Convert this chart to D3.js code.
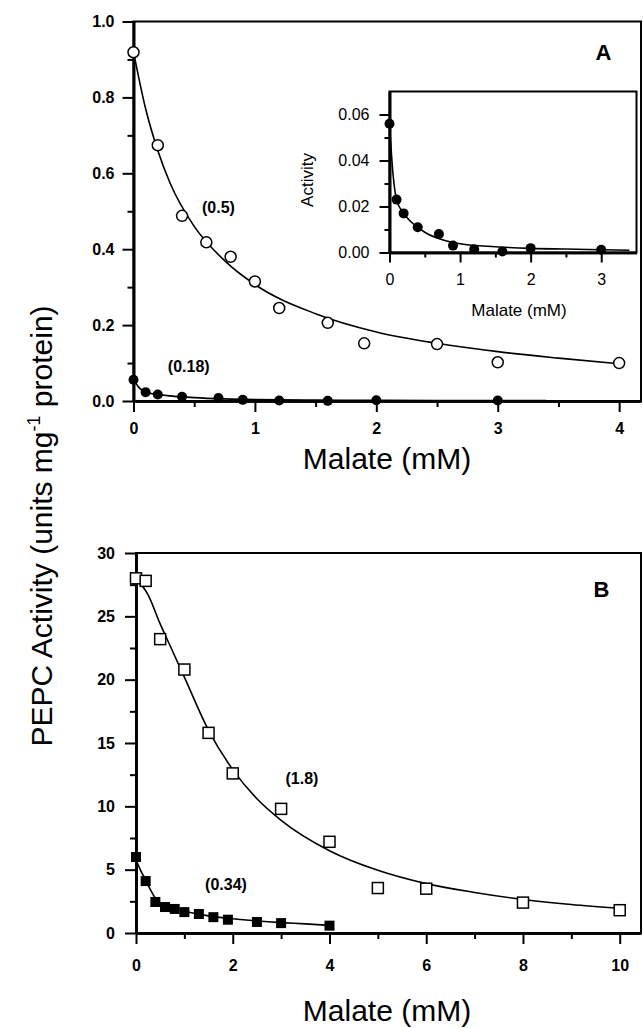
<!DOCTYPE html>
<html>
<head>
<meta charset="utf-8">
<script src="https://cdn.jsdelivr.net/npm/d3@7"></script>
<style>
body { margin: 0; background: #fff; }
svg { display: block; font-family: "Liberation Sans", Arial, sans-serif; }
</style>
</head>
<body>
<script>
// ---- panel A, open circles ----
const aOpenX = [0, 0.2, 0.4, 0.6, 0.8, 1.0, 1.2, 1.6, 1.9, 2.5, 3.0, 4.0];
const aOpenY = [0.919, 0.674, 0.488, 0.418, 0.380, 0.315, 0.245, 0.206, 0.152, 0.150, 0.102, 0.100];
// fitted line through the open circles
const aOpenFitX = [0, 0.1, 0.2, 0.3, 0.5, 0.75, 1, 1.5, 2, 2.5, 3, 3.5, 4];
const aOpenFitY = [0.92, 0.77, 0.66, 0.575, 0.46, 0.37, 0.307, 0.23, 0.182, 0.152, 0.13, 0.113, 0.098];

// ---- panel A, filled circles (same data in the inset) ----
const aFillX = [0, 0.1, 0.2, 0.4, 0.7, 0.9, 1.2, 1.6, 2.0, 3.0];
const aFillY = [0.056, 0.023, 0.017, 0.011, 0.008, 0.003, 0.0014, 0.0004, 0.0019, 0.0012];
const aFillFitX = [0, 0.05, 0.1, 0.2, 0.3, 0.5, 0.75, 1, 1.5, 2, 2.5, 3, 3.4];
const aFillFitY = [0.056, 0.034, 0.023, 0.017, 0.0135, 0.0088, 0.0055, 0.0038, 0.0025, 0.0018, 0.0015, 0.0012, 0.001];

// ---- panel B, open squares ----
const bOpenX = [0, 0.2, 0.5, 1, 1.5, 2, 3, 4, 5, 6, 8, 10];
const bOpenY = [28.0, 27.8, 23.2, 20.8, 15.8, 12.6, 9.8, 7.2, 3.55, 3.5, 2.4, 1.8];
const bOpenFitX = [0, 0.25, 0.5, 0.75, 1, 1.5, 2, 2.5, 3, 4, 5, 6, 7, 8, 9, 10];
const bOpenFitY = [28.0, 26.7, 24.4, 22.3, 20.2, 16.0, 12.9, 10.6, 8.9, 6.5, 4.95, 3.9, 3.2, 2.65, 2.25, 1.95];

// ---- panel B, filled squares ----
const bFillX = [0, 0.2, 0.4, 0.6, 0.8, 1.0, 1.3, 1.6, 1.9, 2.5, 3.0, 4.0];
const bFillY = [6.0, 4.1, 2.45, 2.05, 1.9, 1.65, 1.5, 1.25, 1.05, 0.87, 0.78, 0.58];
const bFillFitX = [0, 0.1, 0.2, 0.3, 0.4, 0.6, 0.8, 1, 1.5, 2, 2.5, 3, 3.5, 4];
const bFillFitY = [5.8, 4.9, 4.2, 3.4, 2.75, 2.15, 1.9, 1.72, 1.35, 1.12, 0.95, 0.82, 0.72, 0.6];

// ---- tick values and annotations ----
const aYTicks = [0, 0.2, 0.4, 0.6, 0.8, 1.0];
const aYMinor = [0.1, 0.3, 0.5, 0.7, 0.9];
const aXTicks = [0, 1, 2, 3, 4];
const aXMinor = [0.5, 1.5, 2.5, 3.5];
const inYTicks = [0, 0.02, 0.04, 0.06];
const inYMinor = [0.01, 0.03, 0.05];
const inXTicks = [0, 1, 2, 3];
const inXMinor = [0.5, 1.5, 2.5];
const bYTicks = [0, 5, 10, 15, 20, 25, 30];
const bYMinor = [2.5, 7.5, 12.5, 17.5, 22.5, 27.5];
const bXTicks = [0, 2, 4, 6, 8, 10];
const bXMinor = [1, 3, 5, 7, 9];
const aLabels = [{ t: "(0.5)", x: 0.70, y: 0.509 }, { t: "(0.18)", x: 0.455, y: 0.09 }];
const bLabels = [{ t: "(1.8)", x: 3.43, y: 12.2 }, { t: "(0.34)", x: 1.86, y: 3.8 }];

const W = 643, H = 1028;
const svg = d3.select("body").append("svg").attr("width", W).attr("height", H);

const zip = (xs, ys) => xs.map((x, i) => ({ x, y: ys[i] }));

// scales
const xA = d3.scaleLinear().domain([0, 4.18]).range([133.5, 641]);
const yA = d3.scaleLinear().domain([0, 1]).range([401, 21.5]);
const xI = d3.scaleLinear().domain([0, 3.5]).range([389.5, 636.5]);
const yI = d3.scaleLinear().domain([0, 0.07]).range([252.5, 91.5]);
const xB = d3.scaleLinear().domain([0, 10.44]).range([136, 641]);
const yB = d3.scaleLinear().domain([0, 30]).range([933, 553]);

// draws a framed panel with major/minor ticks
function frame(g, x, y, o) {
  const [x0, x1] = x.range(), [y0, y1] = y.range();
  g.append("rect").attr("x", x0).attr("y", y1).attr("width", x1 - x0).attr("height", y0 - y1)
    .attr("fill", "#fff").attr("stroke", "#000").attr("stroke-width", 2);

  g.append("g").attr("transform", `translate(${x0},0)`)
    .call(d3.axisLeft(y).tickValues(o.yT).tickSize(o.major).tickSizeOuter(0)
      .tickPadding(o.padY).tickFormat(o.fmtY));
  g.append("g").attr("transform", `translate(${x0},0)`)
    .call(d3.axisLeft(y).tickValues(o.yM).tickSize(o.minor).tickSizeOuter(0).tickFormat(""));
  g.append("g").attr("transform", `translate(0,${y0})`)
    .call(d3.axisBottom(x).tickValues(o.xT).tickSize(o.major).tickSizeOuter(0)
      .tickPadding(o.padX).tickFormat(d3.format("d")));
  g.append("g").attr("transform", `translate(0,${y0})`)
    .call(d3.axisBottom(x).tickValues(o.xM).tickSize(o.minor).tickSizeOuter(0).tickFormat(""));

  g.selectAll(".domain").attr("stroke-width", 2.6);
  g.selectAll(".tick line").attr("stroke-width", 2);
  g.selectAll(".tick text").attr("font-family", '"Liberation Sans", Arial, sans-serif')
    .attr("font-size", o.fs).attr("font-weight", o.bold ? "bold" : "normal").attr("fill", "#000");
}

const line = (x, y) => d3.line().x(d => x(d.x)).y(d => y(d.y)).curve(d3.curveMonotoneX);

// ---------- panel A ----------
const gA = svg.append("g");
frame(gA, xA, yA, { yT: aYTicks, yM: aYMinor, xT: aXTicks, xM: aXMinor,
  major: 11, minor: 6, padY: 8, padX: 11, fs: 16, bold: true, fmtY: d3.format(".1f") });

gA.append("path").datum(zip(aOpenFitX, aOpenFitY)).attr("d", line(xA, yA))
  .attr("fill", "none").attr("stroke", "#000").attr("stroke-width", 1.6);
gA.append("path").datum(zip(aFillFitX, aFillFitY)).attr("d", line(xA, yA))
  .attr("fill", "none").attr("stroke", "#000").attr("stroke-width", 1.6);

gA.selectAll("circle.open").data(zip(aOpenX, aOpenY)).enter().append("circle")
  .attr("cx", d => xA(d.x)).attr("cy", d => yA(d.y)).attr("r", 5.5)
  .attr("fill", "#fff").attr("stroke", "#000").attr("stroke-width", 1.5);
gA.selectAll("circle.fill").data(zip(aFillX, aFillY)).enter().append("circle")
  .attr("cx", d => xA(d.x)).attr("cy", d => yA(d.y)).attr("r", 5).attr("fill", "#000");

gA.selectAll("text.lab").data(aLabels).enter().append("text")
  .attr("x", d => xA(d.x)).attr("y", d => yA(d.y)).attr("dy", "0.35em")
  .attr("text-anchor", "middle").attr("font-size", 16).attr("font-weight", "bold").text(d => d.t);
gA.append("text").attr("x", xA(3.87)).attr("y", yA(0.92)).attr("dy", "0.35em")
  .attr("text-anchor", "middle").attr("font-size", 22).attr("font-weight", "bold").text("A");

// inset
const gI = svg.append("g");
frame(gI, xI, yI, { yT: inYTicks, yM: inYMinor, xT: inXTicks, xM: inXMinor,
  major: 10, minor: 5, padY: 10, padX: 11, fs: 16, bold: false, fmtY: d3.format(".2f") });
gI.append("path").datum(zip(aFillFitX, aFillFitY)).attr("d", line(xI, yI))
  .attr("fill", "none").attr("stroke", "#000").attr("stroke-width", 1.6);
gI.selectAll("circle").data(zip(aFillX, aFillY)).enter().append("circle")
  .attr("cx", d => xI(d.x)).attr("cy", d => yI(d.y)).attr("r", 5).attr("fill", "#000");
gI.append("text").attr("transform", `translate(313,${(yI.range()[0] + yI.range()[1]) / 2 + 8}) rotate(-90)`)
  .attr("text-anchor", "middle").attr("font-size", 17).text("Activity");
gI.append("text").attr("x", 519).attr("y", 316).attr("text-anchor", "middle")
  .attr("font-size", 17).text("Malate (mM)");

svg.append("text").attr("x", 387).attr("y", 469).attr("text-anchor", "middle")
  .attr("font-size", 30).text("Malate (mM)");

// ---------- panel B ----------
const gB = svg.append("g");
frame(gB, xB, yB, { yT: bYTicks, yM: bYMinor, xT: bXTicks, xM: bXMinor,
  major: 11, minor: 6, padY: 10, padX: 16, fs: 16, bold: true, fmtY: d3.format("d") });

gB.append("path").datum(zip(bOpenFitX, bOpenFitY)).attr("d", line(xB, yB))
  .attr("fill", "none").attr("stroke", "#000").attr("stroke-width", 1.6);
gB.append("path").datum(zip(bFillFitX, bFillFitY)).attr("d", line(xB, yB))
  .attr("fill", "none").attr("stroke", "#000").attr("stroke-width", 1.6);

gB.selectAll("rect.open").data(zip(bOpenX, bOpenY)).enter().append("rect")
  .attr("x", d => xB(d.x) - 5.5).attr("y", d => yB(d.y) - 5.5).attr("width", 11).attr("height", 11)
  .attr("fill", "#fff").attr("stroke", "#000").attr("stroke-width", 1.5);
gB.selectAll("rect.fill").data(zip(bFillX, bFillY)).enter().append("rect")
  .attr("x", d => xB(d.x) - 5).attr("y", d => yB(d.y) - 5).attr("width", 10).attr("height", 10)
  .attr("fill", "#000");

gB.selectAll("text.lab").data(bLabels).enter().append("text")
  .attr("x", d => xB(d.x)).attr("y", d => yB(d.y)).attr("dy", "0.35em")
  .attr("text-anchor", "middle").attr("font-size", 16).attr("font-weight", "bold").text(d => d.t);
gB.append("text").attr("x", xB(9.62)).attr("y", yB(27.15)).attr("dy", "0.35em")
  .attr("text-anchor", "middle").attr("font-size", 22).attr("font-weight", "bold").text("B");

svg.append("text").attr("x", 387).attr("y", 1021).attr("text-anchor", "middle")
  .attr("font-size", 30).text("Malate (mM)");

// shared y title
const yt = svg.append("text").attr("transform", "translate(52,526) rotate(-90)")
  .attr("text-anchor", "middle").attr("font-size", 30);
yt.append("tspan").text("PEPC Activity (units mg");
yt.append("tspan").attr("font-size", 18).attr("dy", -12).text("-1");
yt.append("tspan").attr("dy", 12).text(" protein)");
</script>
</body>
</html>
